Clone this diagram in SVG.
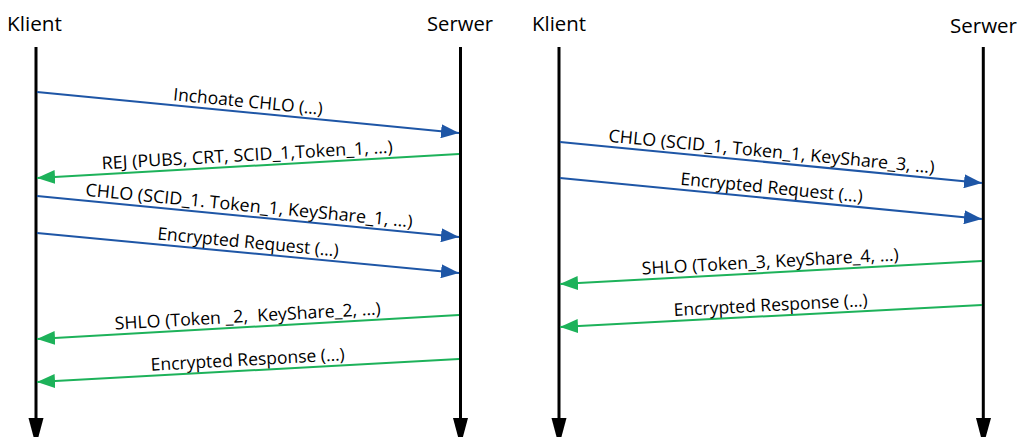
<svg xmlns="http://www.w3.org/2000/svg" width="1019" height="437" viewBox="0 0 1019 437">
<style>
.title{font-family:"Open Sans","Liberation Sans",sans-serif;font-size:20.5px;fill:#000}
.lbl{font-family:"Open Sans","Liberation Sans",sans-serif;font-size:17.5px;fill:#000;text-anchor:middle}
.life{stroke:#000;stroke-width:3;fill:none}
.req{stroke:#1E56A6;stroke-width:2;fill:none;marker-end:url(#ab)}
.resp{stroke:#1DB25A;stroke-width:2;fill:none;marker-end:url(#ag)}
</style>
<defs>
<marker id="ab" markerUnits="userSpaceOnUse" markerWidth="18" markerHeight="14" refX="18" refY="7" orient="auto"><path d="M0,0 L18,7 L0,14 z" fill="#1E56A6"/></marker>
<marker id="ag" markerUnits="userSpaceOnUse" markerWidth="18" markerHeight="14" refX="18" refY="7" orient="auto"><path d="M0,0 L18,7 L0,14 z" fill="#1DB25A"/></marker>
</defs>
<rect width="1019" height="437" fill="#fff"/>

<g id="klient-left">
<text class="title" x="7" y="31" textLength="55" lengthAdjust="spacingAndGlyphs">Klient</text>
<line class="life" x1="36" y1="47" x2="36" y2="420"/>
<polygon points="28.5,418 43.5,418 36,446" fill="#000"/>
</g>
<g id="serwer-left">
<text class="title" x="427" y="31" textLength="66" lengthAdjust="spacingAndGlyphs">Serwer</text>
<line class="life" x1="460.5" y1="47" x2="460.5" y2="420"/>
<polygon points="453,418 468,418 460.5,446" fill="#000"/>
</g>
<g id="klient-right">
<text class="title" x="532" y="31" textLength="54" lengthAdjust="spacingAndGlyphs">Klient</text>
<line class="life" x1="559" y1="47" x2="559" y2="420"/>
<polygon points="551.5,418 566.5,418 559,446" fill="#000"/>
</g>
<g id="serwer-right">
<text class="title" x="950" y="33" textLength="67" lengthAdjust="spacingAndGlyphs">Serwer</text>
<line class="life" x1="983.3" y1="47" x2="983.3" y2="420"/>
<polygon points="976,418 991,418 983.3,446" fill="#000"/>
</g>

<g id="connectors">
<line class="req" x1="37" y1="92" x2="459" y2="133"/>
<line class="resp" x1="459" y1="154" x2="37" y2="178"/>
<line class="req" x1="37" y1="196" x2="459" y2="237"/>
<line class="req" x1="37" y1="233" x2="459" y2="273"/>
<line class="resp" x1="459" y1="315" x2="37" y2="339"/>
<line class="resp" x1="459" y1="359" x2="37" y2="382"/>

<line class="req" x1="560" y1="142" x2="982" y2="183"/>
<line class="req" x1="560" y1="178" x2="982" y2="219"/>
<line class="resp" x1="982" y1="261" x2="560" y2="284"/>
<line class="resp" x1="982" y1="305" x2="560" y2="327"/>

<text class="lbl" x="247.5" y="107.5" transform="rotate(5.54 247.5 107.5)" textLength="150" lengthAdjust="spacingAndGlyphs">Inchoate CHLO (…)</text>
<text class="lbl" x="247.5" y="161" transform="rotate(-3.25 247.5 161)" textLength="291.5" lengthAdjust="spacingAndGlyphs">REJ (PUBS, CRT, SCID_1,Token_1, …)</text>
<text class="lbl" x="248.5" y="211.6" transform="rotate(5.54 248.5 211.6)" textLength="328.5" lengthAdjust="spacingAndGlyphs">CHLO (SCID_1. Token_1, KeyShare_1, …)</text>
<text class="lbl" x="247.5" y="248" transform="rotate(5.4 247.5 248)" textLength="182" lengthAdjust="spacingAndGlyphs">Encrypted Request (…)</text>
<text class="lbl" x="248" y="322" transform="rotate(-3.25 248 322)" textLength="266.4" lengthAdjust="spacingAndGlyphs">SHLO (Token _2, &#160;KeyShare_2, …)</text>
<text class="lbl" x="248" y="365.5" transform="rotate(-3.12 248 365.5)" textLength="194.3" lengthAdjust="spacingAndGlyphs">Encrypted Response (…)</text>

<text class="lbl" x="771" y="157.5" transform="rotate(5.54 771 157.5)" textLength="327.5" lengthAdjust="spacingAndGlyphs">CHLO (SCID_1, Token_1, KeyShare_3, …)</text>
<text class="lbl" x="771" y="193.5" transform="rotate(5.54 771 193.5)" textLength="183" lengthAdjust="spacingAndGlyphs">Encrypted Request (…)</text>
<text class="lbl" x="770.5" y="267.5" transform="rotate(-3.12 770.5 267.5)" textLength="257.4" lengthAdjust="spacingAndGlyphs">SHLO (Token_3, KeyShare_4, …)</text>
<text class="lbl" x="771" y="311" transform="rotate(-2.98 771 311)" textLength="194.3" lengthAdjust="spacingAndGlyphs">Encrypted Response (…)</text>
</g>
</svg>
